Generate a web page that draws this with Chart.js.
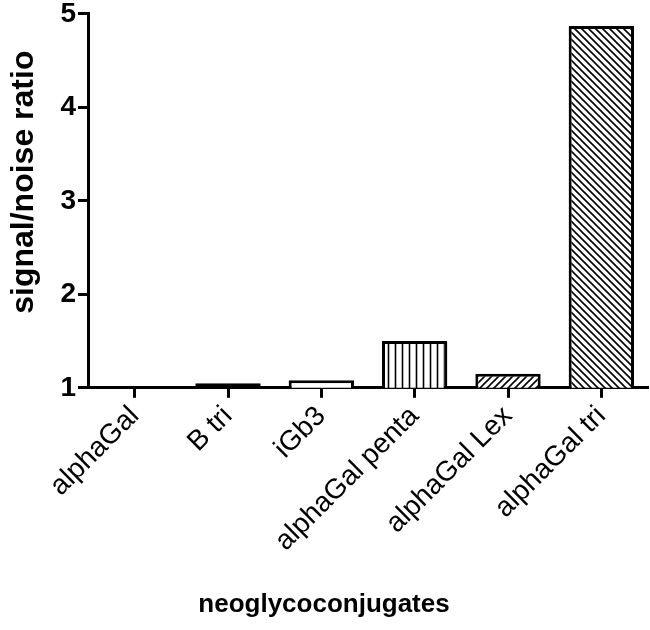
<!DOCTYPE html>
<html>
<head>
<meta charset="utf-8">
<script src="https://cdn.jsdelivr.net/npm/chart.js@4/dist/chart.umd.min.js"></script>
<style>
html,body{margin:0;padding:0;background:#fff;}
#wrap{width:650px;height:630px;position:relative;}
</style>
</head>
<body>
<div id="wrap"><canvas id="c" width="650" height="630"></canvas></div>
<script>
const categories = ['alphaGal', 'B tri', 'iGb3', 'alphaGal penta', 'alphaGal Lex', 'alphaGal tri'];
const signalNoise = [1.01, 1.05, 1.08, 1.5, 1.15, 4.87];
const fillKinds = ['white', 'black', 'white', 'vertical', 'slash', 'backslash'];
const yTicks = [1, 2, 3, 4, 5];
const xTitle = 'neoglycoconjugates';
const yTitle = 'signal/noise ratio';
const FONT = 'Liberation Sans, Arial, sans-serif';

function makePattern(kind) {
  if (kind === 'white') return '#ffffff';
  if (kind === 'black') return '#000000';
  const c = document.createElement('canvas');
  const s = 7;
  c.width = s; c.height = s;
  const x = c.getContext('2d');
  x.fillStyle = '#fff'; x.fillRect(0, 0, s, s);
  x.strokeStyle = '#000'; x.lineWidth = 1.6;
  x.beginPath();
  if (kind === 'vertical') {
    x.moveTo(s / 2, 0); x.lineTo(s / 2, s);
  } else if (kind === 'slash') {
    x.moveTo(0, s); x.lineTo(s, 0);
    x.moveTo(-1, 1); x.lineTo(1, -1);
    x.moveTo(s - 1, s + 1); x.lineTo(s + 1, s - 1);
  } else {
    x.moveTo(0, 0); x.lineTo(s, s);
    x.moveTo(s - 1, -1); x.lineTo(s + 1, 1);
    x.moveTo(-1, s - 1); x.lineTo(1, s + 1);
  }
  x.stroke();
  return x.createPattern(c, 'repeat');
}

const yTitlePlugin = {
  id: 'yTitlePlugin',
  afterDraw(chart) {
    const c = chart.ctx, a = chart.chartArea;
    c.save();
    c.translate(24, a.top + (a.bottom - a.top) * 0.45);
    c.rotate(-Math.PI / 2);
    c.font = 'bold 32px ' + FONT;
    c.fillStyle = '#000';
    c.textAlign = 'center';
    c.textBaseline = 'middle';
    c.fillText(yTitle, 0, 0);
    c.restore();
  }
};

const ctx = document.getElementById('c').getContext('2d');
new Chart(ctx, {
  type: 'bar',
  data: {
    labels: categories,
    datasets: [{
      data: signalNoise,
      backgroundColor: fillKinds.map(makePattern),
      borderColor: '#000',
      borderWidth: 3,
      borderSkipped: false,
      barPercentage: 0.7,
      categoryPercentage: 1.0
    }]
  },
  plugins: [yTitlePlugin],
  options: {
    responsive: false,
    animation: false,
    devicePixelRatio: 1,
    layout: { padding: { top: 0, right: 2, left: 0, bottom: 0 } },
    plugins: {
      legend: { display: false },
      tooltip: { enabled: false },
      title: { display: true, position: 'bottom', text: xTitle, color: '#000',
        padding: { top: 0, bottom: 10 },
        font: { family: FONT, size: 26, weight: 'bold' } }
    },
    scales: {
      x: {
        offset: true,
        grid: { display: true, offset: false, drawOnChartArea: false, drawTicks: true, tickLength: 10, tickWidth: 3, tickColor: '#000' },
        border: { display: true, color: '#000', width: 3 },
        ticks: { color: '#000', minRotation: 45, maxRotation: 45, autoSkip: false, padding: 2,
          font: { family: FONT, size: 28 } },
        afterFit: (s) => { s.height = 201; }
      },
      y: {
        min: 1, max: 5,
        afterBuildTicks: (s) => { s.ticks = yTicks.map(v => ({ value: v })); },
        grid: { display: true, drawOnChartArea: false, drawTicks: true, tickLength: 10, tickWidth: 3, tickColor: '#000' },
        border: { display: true, color: '#000', width: 3 },
        ticks: { color: '#000', padding: 2,
          font: { family: FONT, size: 28, weight: 'bold', lineHeight: 0.85 } },
        afterFit: (s) => { s.width = 88; }
      }
    }
  }
});
</script>
</body>
</html>
